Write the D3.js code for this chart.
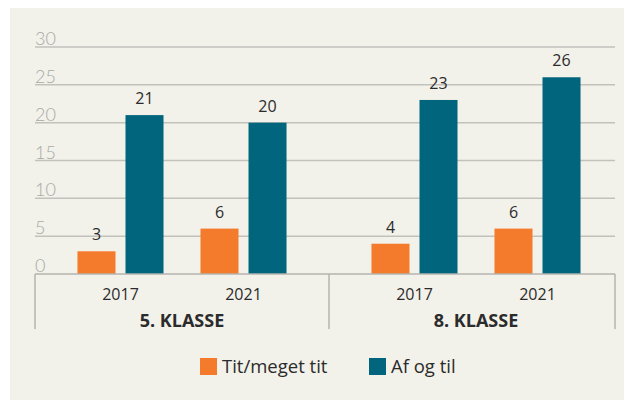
<!DOCTYPE html>
<html><head><meta charset="utf-8">
<script src="https://cdn.jsdelivr.net/npm/d3@7"></script>
<style>
html,body{margin:0;padding:0;background:#fff;}
svg{display:block;}
</style></head>
<body>
<svg id="chart" width="624" height="400"></svg>
<script>
const groups = ["5. KLASSE", "8. KLASSE"];
const years = ["2017", "2021"];
const seriesNames = ["Tit/meget tit", "Af og til"];
const titMegetTit = [3, 6, 4, 6];   // 5.kl 2017, 5.kl 2021, 8.kl 2017, 8.kl 2021
const afOgTil = [21, 20, 23, 26];
const yTicks = [0, 5, 10, 15, 20, 25, 30];
const colors = ["#f47b2b", "#00657d"];

const svg = d3.select("#chart");
svg.append("rect").attr("x", 10).attr("y", 8).attr("width", 614).attr("height", 392).attr("fill", "#f2f1ea");

const font = "'Open Sans', 'Noto Sans', sans-serif";
const y = d3.scaleLinear().domain([0, 30]).range([274, 47]);
const xGroup = d3.scaleBand().domain(groups).range([35, 623]).padding(0);
const xYear = d3.scaleBand().domain(years).range([0, xGroup.bandwidth()]).paddingInner(0).paddingOuter(0.195);
const xSeries = d3.scaleBand().domain(seriesNames).range([0, xYear.bandwidth()]).paddingInner(0.2083).paddingOuter(0.385);
const plotLeft = 35, plotRight = 615;

// gridlines
svg.append("g").selectAll("line").data(yTicks.filter(d => d > 0)).join("line")
  .attr("x1", plotLeft).attr("x2", plotRight)
  .attr("y1", d => y(d)).attr("y2", d => y(d))
  .attr("stroke", "#c2c1bc").attr("stroke-width", 1.5);

// tick labels
svg.append("g").selectAll("text").data(yTicks).join("text")
  .attr("x", plotLeft).attr("y", d => y(d) - 2)
  .attr("font-family", "Lato, 'Open Sans', sans-serif").attr("font-weight", 300)
  .attr("font-size", 18).attr("fill", "#a9a9a6")
  .text(d => d);

// data
const data = [];
groups.forEach((g, gi) => years.forEach((yr, yi) => {
  const idx = gi * 2 + yi;
  [titMegetTit[idx], afOgTil[idx]].forEach((v, si) => data.push({g, yr, s: seriesNames[si], v, si}));
}));

svg.append("g").selectAll("rect").data(data).join("rect")
  .attr("x", d => xGroup(d.g) + xYear(d.yr) + xSeries(d.s))
  .attr("width", xSeries.bandwidth())
  .attr("y", d => y(d.v)).attr("height", d => y(0) - y(d.v))
  .attr("fill", d => colors[d.si]);

svg.append("g").selectAll("text").data(data).join("text")
  .attr("x", d => xGroup(d.g) + xYear(d.yr) + xSeries(d.s) + xSeries.bandwidth() / 2)
  .attr("y", d => y(d.v) - 11)
  .attr("text-anchor", "middle")
  .attr("font-family", font).attr("font-size", 16).attr("fill", "#2b2b2b")
  .text(d => d.v);

// baseline and category axis
svg.append("line").attr("x1", plotLeft).attr("x2", plotRight).attr("y1", y(0)).attr("y2", y(0))
  .attr("stroke", "#b4b3ae").attr("stroke-width", 1.5);
const seps = [plotLeft, xGroup(groups[1]), plotRight];
svg.append("g").selectAll("line").data(seps).join("line")
  .attr("x1", d => d).attr("x2", d => d).attr("y1", y(0)).attr("y2", 329)
  .attr("stroke", "#b4b3ae").attr("stroke-width", 1.5);

const yearLabels = [];
groups.forEach(g => years.forEach(yr => yearLabels.push({g, yr})));
svg.append("g").selectAll("text").data(yearLabels).join("text")
  .attr("x", d => xGroup(d.g) + xYear(d.yr) + xYear.bandwidth() / 2)
  .attr("y", 300).attr("text-anchor", "middle")
  .attr("font-family", font).attr("font-size", 16).attr("fill", "#2b2b2b")
  .text(d => d.yr);

svg.append("g").selectAll("text").data(groups).join("text")
  .attr("x", d => xGroup(d) + xYear("2017") + xYear.step())
  .attr("y", 327).attr("text-anchor", "middle")
  .attr("font-family", font).attr("font-size", 18).attr("font-weight", "bold").attr("fill", "#2b2b2b")
  .text(d => d);

// legend
const legendX = [200, 369];
const lg = svg.append("g").selectAll("g").data(seriesNames).join("g")
  .attr("transform", (d, i) => `translate(${legendX[i]},358)`);
lg.append("rect").attr("width", 17).attr("height", 17).attr("fill", (d, i) => colors[i]);
lg.append("text").attr("x", 22).attr("y", 15)
  .attr("font-family", font).attr("font-size", 18.5).attr("fill", "#2b2b2b")
  .text(d => d);
</script>
</body></html>
